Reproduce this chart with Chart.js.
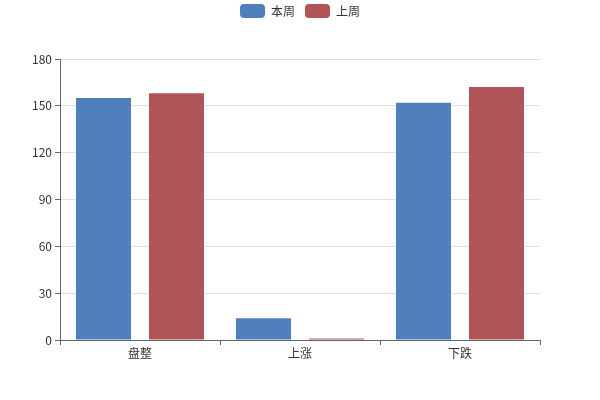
<!DOCTYPE html>
<html>
<head>
<meta charset="utf-8">
<script src="https://cdn.jsdelivr.net/npm/chart.js@4/dist/chart.umd.min.js"></script>
<style>
  html, body { margin: 0; padding: 0; background: #fff; }
  #wrap { width: 600px; height: 400px; }
</style>
</head>
<body>
<div id="wrap"><canvas id="barChart" width="600" height="400"></canvas></div>
<script>
const categories = ['盘整', '上涨', '下跌'];
const thisWeek = [155, 14, 152];
const lastWeek = [158, 1, 162];
const yTicks = [0, 30, 60, 90, 120, 150, 180];

const FONT = '"Noto Sans CJK SC", "Noto Sans", sans-serif';

// push the plot area down below the legend, and center the legend on the whole canvas
const legendGap = {
    id: 'legendGap',
    beforeInit(chart) {
        const fit = chart.legend.fit;
        chart.legend.fit = function () {
            fit.bind(chart.legend)();
            this.height += 25;
        };
    },
    afterLayout(chart) {
        const lg = chart.legend;
        lg.left = 0;
        lg.right = chart.width;
        lg.width = chart.width;
        lg.top -= 6;
    }
};

new Chart(document.getElementById('barChart'), {
    type: 'bar',
    data: {
        labels: categories,
        datasets: [
            { label: '本周', data: thisWeek, backgroundColor: '#4f80bd' },
            { label: '上周', data: lastWeek, backgroundColor: '#b05457' }
        ]
    },
    options: {
        responsive: false,
        animation: false,
        categoryPercentage: 0.9125,
        barPercentage: 0.753,
        layout: { padding: { left: 0, right: 60, top: 0, bottom: 0 } },
        plugins: {
            legend: {
                position: 'top',
                labels: {
                    boxWidth: 25,
                    boxHeight: 14,
                    padding: 10,
                    useBorderRadius: true,
                    borderRadius: 4,
                    color: '#333',
                    font: { family: FONT, size: 12 }
                }
            },
            tooltip: { enabled: false }
        },
        scales: {
            x: {
                offset: true,
                grid: {
                    display: true,
                    drawOnChartArea: false,
                    offset: true,
                    tickLength: 5,
                    tickColor: '#666'
                },
                border: { color: '#666' },
                ticks: { color: '#333', padding: 1, font: { family: FONT, size: 12 } },
                afterFit(scale) { scale.height = 60; }
            },
            y: {
                min: 0,
                max: 180,
                afterBuildTicks(scale) { scale.ticks = yTicks.map(v => ({ value: v })); },
                grid: { color: '#e0e0e0', tickColor: '#666', tickLength: 5 },
                border: { color: '#666' },
                ticks: { color: '#333', padding: 3, font: { family: FONT, size: 12 } },
                afterFit(scale) { scale.width = 60; }
            }
        }
    },
    plugins: [legendGap]
});
</script>
</body>
</html>
